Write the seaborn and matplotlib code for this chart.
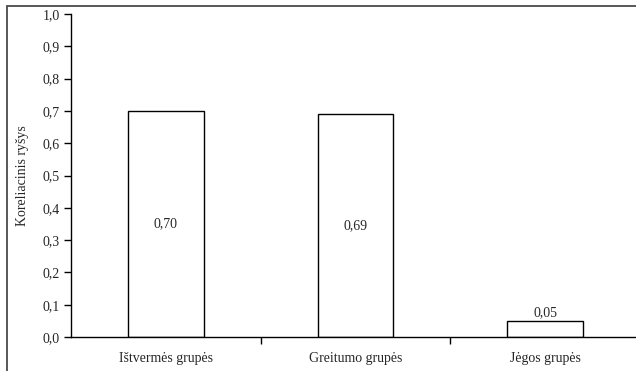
import matplotlib
matplotlib.use("Agg")
import matplotlib.pyplot as plt
from matplotlib.patches import Rectangle
from matplotlib.ticker import FixedLocator, FuncFormatter
import seaborn as sns
import pandas as pd

categories = ["Ištvermės grupės", "Greitumo grupės", "Jėgos grupės"]
values = [0.70, 0.69, 0.05]
y_ticks = [0.0, 0.1, 0.2, 0.3, 0.4, 0.5, 0.6, 0.7, 0.8, 0.9, 1.0]

sns.set_style("ticks")
plt.rcParams["font.family"] = ["Liberation Serif", "DejaVu Serif"]
FS = 10

W, H = 636, 371
fig = plt.figure(figsize=(W / 100, H / 100), dpi=100)
fig.patch.set_facecolor("white")

# outer chart frame (runs past the right and bottom edges)
fig.patches.append(Rectangle((7 / W, -0.2), 1.2, 1.2 - 6 / H,
                             transform=fig.transFigure, fill=False,
                             edgecolor="#4a4a4a", linewidth=1.3))

ax = fig.add_axes([71 / W, 34 / H, (640 - 71) / W, (337 - 14) / H])
df = pd.DataFrame({"grupe": categories, "r": values})
sns.barplot(data=df, x="grupe", y="r", color="white", edgecolor="black",
            linewidth=1.0, width=0.4, ax=ax, saturation=1)

ax.set_xlim(-0.5, len(categories) - 0.5)
ax.set_ylim(0, 1.0)
ax.set_yticks(y_ticks)
ax.yaxis.set_major_formatter(FuncFormatter(lambda v, p: f"{v:.1f}".replace(".", ",")))
ax.tick_params(axis="y", direction="out", length=5, width=1, color="black",
               labelsize=FS, pad=3)

# category labels centred, tick marks between categories
ax.tick_params(axis="x", which="major", length=0, labelsize=FS, pad=11)
ax.xaxis.set_minor_locator(FixedLocator([i + 0.5 for i in range(len(categories) - 1)]))
ax.tick_params(axis="x", which="minor", direction="out", length=5, width=1, color="black")

ax.set_xlabel("")
ax.set_ylabel("Koreliacinis ryšys", fontsize=FS, labelpad=10)
for s in ["top", "right"]:
    ax.spines[s].set_visible(False)
for s in ["left", "bottom"]:
    ax.spines[s].set_color("black")
    ax.spines[s].set_linewidth(1.0)

for i, v in enumerate(values):
    label = f"{v:.2f}".replace(".", ",")
    if v > 0.15:
        ax.text(i, v / 2, label, ha="center", va="center", fontsize=FS)
    else:
        ax.text(i, v + 0.005, label, ha="center", va="bottom", fontsize=FS)

fig.savefig("out.png", dpi=100, facecolor="white")
